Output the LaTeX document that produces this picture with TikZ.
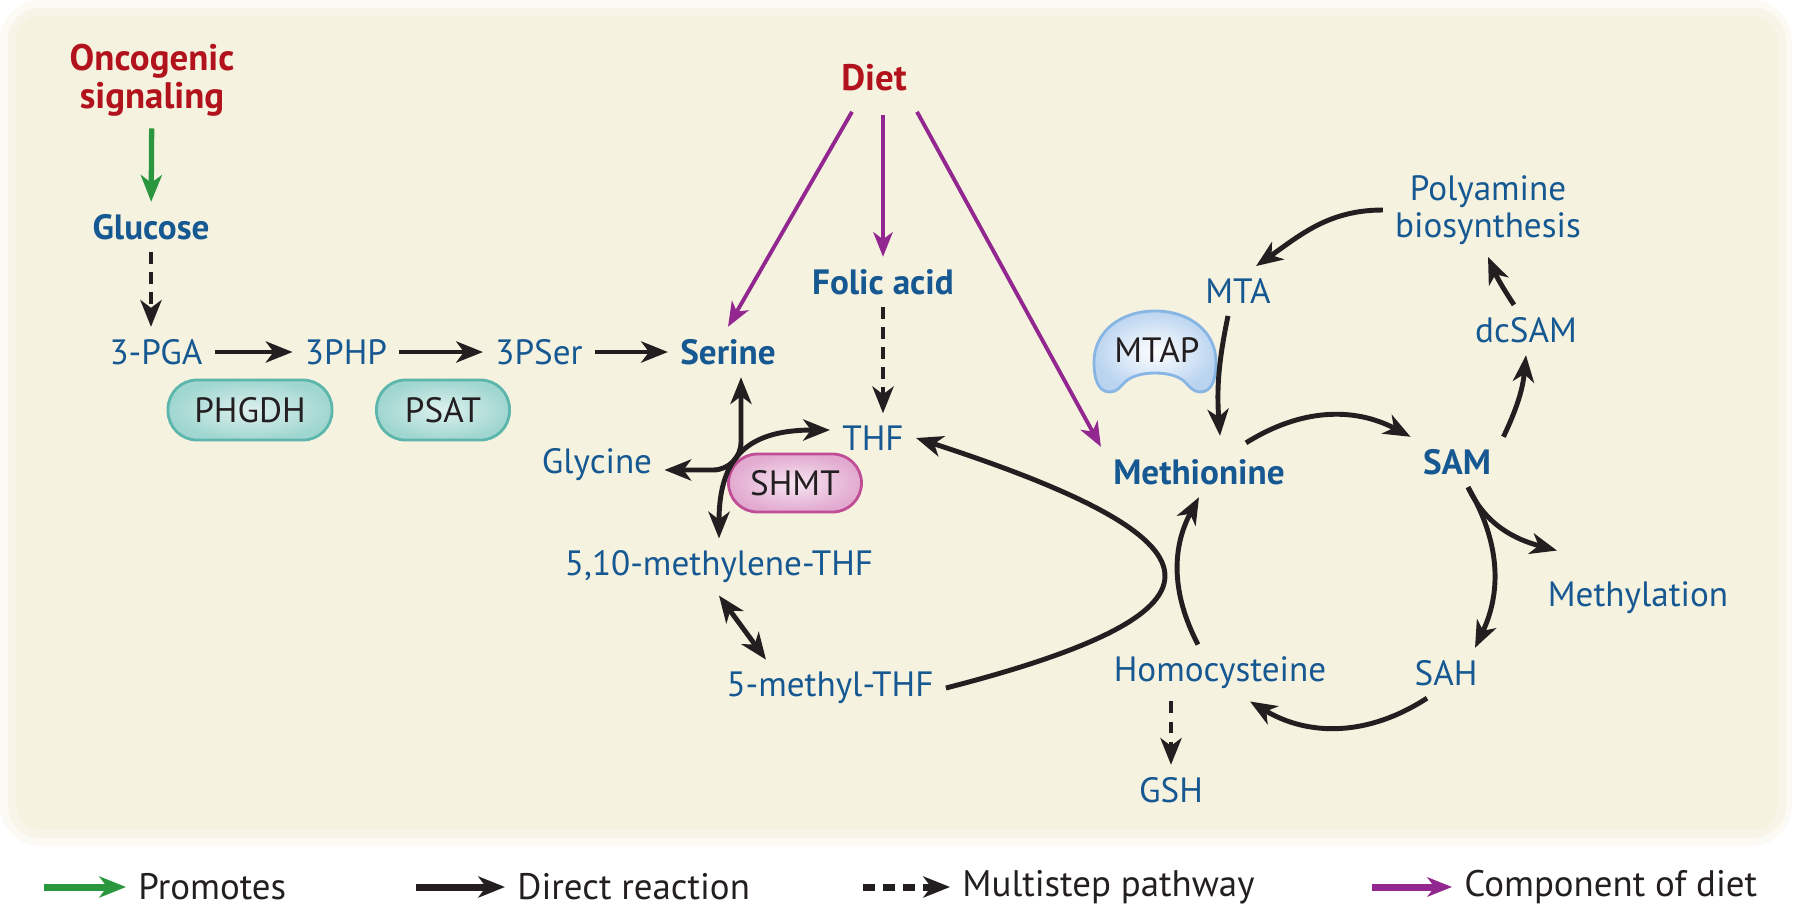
\documentclass[tikz,border=0pt]{standalone}
\usepackage{fontspec}
\setmainfont{PT Sans}
\usetikzlibrary{arrows.meta}
\definecolor{panel}{RGB}{246,242,224}
\definecolor{txtblue}{RGB}{22,88,145}
\definecolor{dietred}{RGB}{178,18,28}
\definecolor{dietpurple}{RGB}{146,39,143}
\definecolor{promgreen}{RGB}{42,150,62}
\definecolor{tealfill}{RGB}{160,214,208}
\definecolor{tealline}{RGB}{92,182,172}
\definecolor{pinkfill}{RGB}{226,170,208}
\definecolor{pinkline}{RGB}{192,78,150}
\definecolor{bluefill}{RGB}{186,212,240}
\definecolor{blueline}{RGB}{136,182,228}
\definecolor{inkblack}{RGB}{35,31,32}

\begin{document}
\begin{tikzpicture}[x=0.1mm,y=-0.1mm,
  >={Stealth[length=7.6pt,width=6pt,inset=2.2pt]},
  metab/.style={text=txtblue,font=\fontsize{10}{10.5}\selectfont},
  metabb/.style={text=txtblue,font=\fontsize{10}{10.5}\selectfont\bfseries},
  srclabel/.style={text=dietred,font=\fontsize{10.5}{10.8}\selectfont\bfseries,align=center},
  enzyme/.style={draw=tealline,line width=0.8pt,inner color=tealfill!35,outer color=tealfill,
    rounded corners=2.9mm,minimum height=6mm,text=inkblack,font=\fontsize{10}{10.5}\selectfont},
  pinkenz/.style={draw=pinkline,inner color=pinkfill!30,outer color=pinkfill},
  rxn/.style={draw=inkblack,line width=1.4pt,->},
  multi/.style={rxn,dash pattern=on 3.4pt off 2.3pt},
  promo/.style={draw=promgreen,line width=1.5pt,->},
  dietarr/.style={draw=dietpurple,line width=1.1pt,-{Stealth[length=7pt,width=5.5pt,inset=2pt]}},
  legtext/.style={anchor=west,text=inkblack,font=\fontsize{10.5}{11}\selectfont},
  legline/.style={line width=2pt}]
\useasboundingbox (0,0) rectangle (1800,908);
\fill[panel,opacity=0.35,rounded corners=4mm] (0,0) rectangle (1792,846);
\fill[panel,opacity=0.6,rounded corners=3.2mm] (8,8) rectangle (1786,838);
\fill[panel,rounded corners=2.5mm] (16,16) rectangle (1778,830);

\node[srclabel] (onco) at (152,80) {Oncogenic\\signaling};
\node[metabb] (glucose) at (151,227) {Glucose};
\node[metab] (pga) at (156,352) {3-PGA};
\node[metab] (php) at (346,352) {3PHP};
\node[metab] (pser) at (539,352) {3PSer};
\node[metabb] (serine) at (728,352) {Serine};
\node[enzyme,minimum width=16.4mm] (phgdh) at (250,410) {PHGDH};
\node[enzyme,minimum width=13.3mm] (psat) at (443,410) {PSAT};
\node[srclabel] (diet) at (874,78) {Diet};
\node[metabb] (folic) at (883,282) {Folic acid};
\node[metab] (thf) at (873,438) {THF};
\node[metab] (glycine) at (597,465) {Glycine};
\node[enzyme,pinkenz,minimum width=13.3mm,minimum height=5.8mm] (shmt) at (795,483) {SHMT};
\node[metab] (mlthf) at (719,567) {5,10-methylene-THF};
\node[metab] (mthf) at (830,688) {5-methyl-THF};
\node[metabb] (methionine) at (1199,472) {Methionine};
\node[metabb] (sam) at (1457,462) {SAM};
\node[metab] (mta) at (1238,291) {MTA};
\node[metab,align=center] (poly) at (1488,210) {Polyamine\\biosynthesis};
\node[metab] (dcsam) at (1526,330) {dcSAM};
\node[metab] (methyl) at (1638,598) {Methylation};
\node[metab] (sah) at (1446,673) {SAH};
\node[metab] (hcy) at (1220,673) {Homocysteine};
\node[metab] (gsh) at (1171,790) {GSH};
\coordinate (dietmid) at ([xshift=0.9mm,yshift=-1.1mm]diet.south);

\begin{scope}[shift={(1155,352)}]
\path[draw=blueline,line width=0.8pt,inner color=white,outer color=bluefill]
  (-45,40) .. controls (-58,40) and (-61,25) .. (-61,10)
  .. controls (-61,-20) and (-35,-41) .. (0,-41)
  .. controls (35,-41) and (61,-20) .. (61,10)
  .. controls (61,25) and (58,40) .. (45,40)
  .. controls (38,40) and (34,34) .. (30,30)
  .. controls (18,18) and (-18,18) .. (-30,30)
  .. controls (-34,34) and (-38,40) .. (-45,40) -- cycle;
\end{scope}
\node[text=inkblack,font=\fontsize{10}{10.5}\selectfont] (mtap) at (1157,350) {MTAP};

\draw[promo] (onco) -- (glucose);
\draw[multi] (glucose.south) -- (glucose.south |- pga.north);
\draw[rxn] (pga) -- (php);
\draw[rxn] (php) -- (pser);
\draw[rxn] (pser) -- (serine);
\draw[dietarr] ([xshift=-2.2mm,yshift=-0.8mm]diet.south) -- (serine.north);
\draw[dietarr] (dietmid) -- (dietmid |- folic.north);
\draw[dietarr] ([xshift=4.3mm,yshift=-0.8mm]diet.south) -- (methionine.north west);
\draw[multi] (folic.south) -- (folic.south |- thf.north);
\draw[rxn,<->,rounded corners=2.8mm] ([xshift=1.3mm]serine.south) |- ([yshift=-0.5mm]glycine.east);
\draw[rxn,<->] ([yshift=0.8mm]thf.west) .. controls (750,430) and (719,455) .. (mlthf.north);
\draw[rxn,<->] (mlthf.south) -- ([xshift=-6.4mm]mthf.north);
\draw[rxn] (mthf.east) .. controls (1250,610) and (1230,540) .. (thf.east);
\draw[rxn] ([xshift=-1mm]mta.south) to[bend right=8] ([xshift=2.1mm,yshift=1.1mm]methionine.north);
\draw[rxn] (poly.west) to[out=180,in=35] ([xshift=1.8mm]mta.north);
\draw[rxn] ([xshift=4.7mm,yshift=0.4mm]methionine.north) to[bend left=30] (sam.north west);
\draw[rxn] (sam.north east) to[bend right=10] (dcsam.south);
\draw[rxn] ([xshift=-1.2mm]dcsam.north) to[bend left=5] (poly.south);
\draw[rxn] ([xshift=1.1mm]sam.south) to[bend left=28] ([xshift=2.9mm]sah.north);
\draw[rxn] ([xshift=1.1mm]sam.south) to[out=-65,in=165] ([xshift=-8.1mm,yshift=1.9mm]methyl.north);
\draw[rxn] ([xshift=-1.9mm]sah.south) to[bend left=32] ([xshift=3mm]hcy.south);
\draw[rxn] ([xshift=-2.2mm]hcy.north) to[bend left=28] (methionine.south);
\draw[multi] (gsh.north |- hcy.south) -- (gsh.north);

\node[legtext] (lgprom) at (126,887) {Promotes};
\node[legtext] (lgdirect) at (505,887) {Direct reaction};
\node[legtext] (lgmulti) at (950,887) {Multistep pathway};
\node[legtext] (lgdiet) at (1452,887) {Component of diet};
\draw[promo,legline] ([xshift=-8.2mm]lgprom.west) -- (lgprom.west);
\draw[rxn,legline] ([xshift=-8.9mm]lgdirect.west) -- (lgdirect.west);
\draw[multi,legline] ([xshift=-8.7mm]lgmulti.west) -- (lgmulti.west);
\draw[dietarr,legline] ([xshift=-8mm]lgdiet.west) -- (lgdiet.west);
\end{tikzpicture}
\end{document}
